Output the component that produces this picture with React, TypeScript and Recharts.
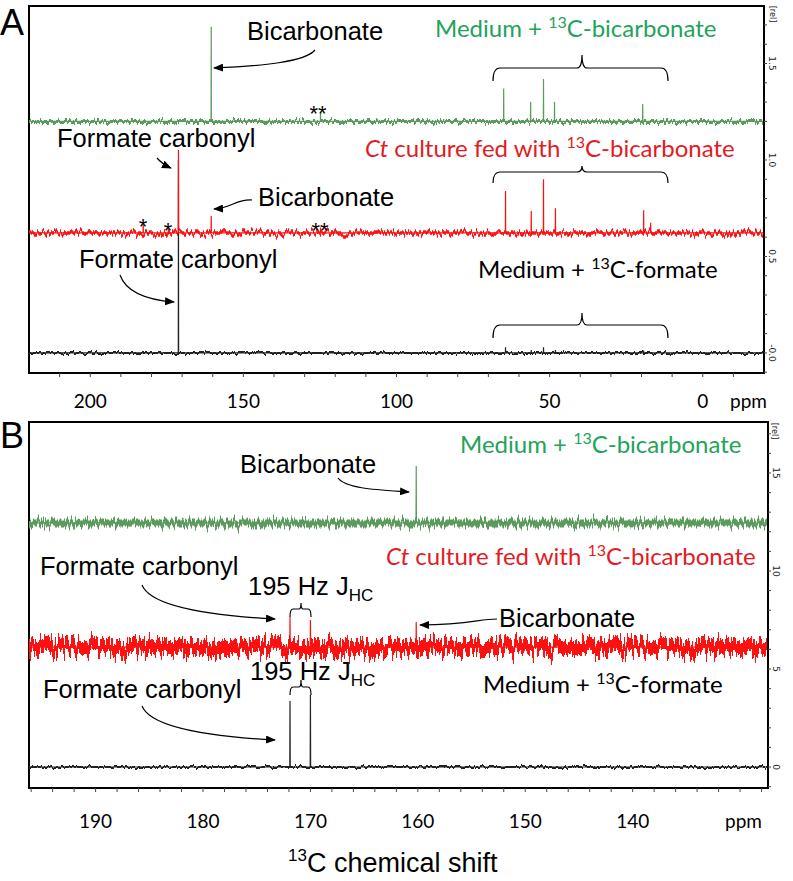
import React from 'react';
import { LineChart, Line, XAxis, YAxis, ReferenceArea } from 'recharts';

// ---- panel A : full 13C range ----
const domainXA = [-20, 220];
const domainYA = [-0.104, 1.798];
const xTicksA = [210, 200, 190, 180, 170, 160, 150, 140, 130, 120, 110, 100, 90, 80, 70, 60, 50, 40, 30, 20, 10, 0, -10];
const xLabelsA = [200, 150, 100, 50, 0];
const yTicksA = [-0.1, 0, 0.1, 0.2, 0.3, 0.4, 0.5, 0.6, 0.7, 0.8, 0.9, 1.0, 1.1, 1.2, 1.3, 1.4, 1.5, 1.6, 1.7];
const yLabelsA = ['-0.0', '0.5', '1.0', '1.5'];
const yLabelValsA = [0, 0.5, 1.0, 1.5];

// baselines (rel) and peaks [ppm, top]
const baseGreenA = 1.2;
const baseRedA = 0.622;
const baseBlackA = 0;
const peaksGreenA = [[160.5, 1.69], [124.8, 1.25], [65.0, 1.37], [56.2, 1.3], [52.0, 1.42], [48.4, 1.3], [19.6, 1.29]];
const peaksRedA = [[182.7, 0.674], [174.5, 0.648], [171.2, 1.052], [160.5, 0.71], [124.8, 0.65], [64.4, 0.839], [56.0, 0.736], [52.0, 0.9], [48.1, 0.75], [19.3, 0.74], [17.0, 0.674]];
const peaksBlackA = [[171.2, 1.0], [64.4, 0.03], [56.0, 0.015], [52.0, 0.03], [48.1, 0.015], [19.3, 0.012]];

// ---- panel B : carbonyl region ----
const domainXB = [127.4, 196.2];
const domainYB = [-1.07, 17.6];
const xTicksB = [196, 194, 192, 190, 188, 186, 184, 182, 180, 178, 176, 174, 172, 170, 168, 166, 164, 162, 160, 158, 156, 154, 152, 150, 148, 146, 144, 142, 140, 138, 136, 134, 132, 130, 128];
const xLabelsB = [190, 180, 170, 160, 150, 140];
const yTicksB = [-1, 0, 1, 2, 3, 4, 5, 6, 7, 8, 9, 10, 11, 12, 13, 14, 15, 16, 17];
const yLabelsB = ['0', '5', '10', '15'];
const yLabelValsB = [0, 5, 10, 15];

const baseGreenB = 12.45;
const baseRedB = 6.12;
const baseBlackB = 0;
const peaksGreenB = [[160.15, 15.36]];
const peaksRedB = [[171.9, 7.65], [170.0, 7.5], [160.15, 7.4]];
const peaksBlackB = [[171.9, 3.37], [170.0, 3.67]];

const GREEN_LINE = '#5b9b5b';
const RED_LINE = '#ff1010';
const BLACK_LINE = '#222';
const GREEN_TEXT = '#22a35a';
const RED_TEXT = '#e31b23';
const ARIAL = '"Liberation Sans", Arial, sans-serif';
const CALIBRI = 'Lato, "Open Sans", sans-serif';

type Pt = { ppm: number; v: number };

function buildTrace(base: number, peaks: number[][], dom: number[], w: number): Pt[] {
  const pts: Pt[] = [{ ppm: dom[1], v: base }];
  const sorted = [...peaks].sort((a, b) => b[0] - a[0]);
  sorted.forEach(([p, top]) => {
    pts.push({ ppm: p + w, v: base });
    pts.push({ ppm: p, v: top });
    pts.push({ ppm: p - w, v: base });
  });
  pts.push({ ppm: dom[0], v: base });
  return pts;
}

function flat(base: number, dom: number[]): Pt[] {
  return [{ ppm: dom[1], v: base }, { ppm: dom[0], v: base }];
}

const makeXTick = (labels: number[], dy: number) => (props: any) => {
  const { x, y, payload } = props;
  if (!labels.includes(payload.value)) return <g />;
  return (
    <text x={x} y={y + dy} textAnchor="middle" fontFamily={CALIBRI} fontSize={19} fill="#000">
      {payload.value}
    </text>
  );
};

const makeYTick = (vals: number[], labels: string[]) => (props: any) => {
  const { x, y, payload } = props;
  const i = vals.findIndex((v) => Math.abs(v - payload.value) < 1e-6);
  if (i < 0) return <g />;
  return (
    <text x={x} y={y} transform={`rotate(90, ${x}, ${y})`} textAnchor="middle" fontFamily='"DejaVu Sans", sans-serif' fontSize={9} fill="#222">
      {labels[i]}
    </text>
  );
};

// baseline noise look: a jitter filter on the baseline stroke
const NoiseFilter = ({ id, scale, seed }: { id: string; scale: number; seed: number }) => (
  <filter id={id} filterUnits="userSpaceOnUse" x={0} y={-20} width={793} height={920} colorInterpolationFilters="sRGB">
    <feTurbulence type="fractalNoise" baseFrequency="0.45 0.01" numOctaves={2} seed={seed} result="t" />
    <feColorMatrix in="t" type="matrix" values="0 0 0 0 0.5  0 1 0 0 0  0 0 0 0 0  0 0 0 0 1" result="m" />
    <feDisplacementMap in="SourceGraphic" in2="m" scale={scale} xChannelSelector="R" yChannelSelector="G" />
  </filter>
);

export default function App() {
  const series = (base: number, peaks: number[][], dom: number[], color: string, band: number, w: number, filt: string, key: string) => [
    <Line key={key + 'b'} data={flat(base, dom)} dataKey="v" stroke={color} strokeWidth={band} filter={`url(#${filt})`} dot={false} isAnimationActive={false} />,
    <Line key={key + 'p'} data={buildTrace(base, peaks, dom, w)} dataKey="v" stroke={color} strokeWidth={1.2} dot={false} isAnimationActive={false} />,
  ];

  return (
    <div style={{ position: 'absolute', left: 0, top: 0, width: 793, height: 881, background: '#fff' }}>
      <svg width={0} height={0} style={{ position: 'absolute' }}>
        <defs>
          <NoiseFilter id="nz-ga" scale={10} seed={2} />
          <NoiseFilter id="nz-ra" scale={13} seed={5} />
          <NoiseFilter id="nz-ka" scale={6} seed={7} />
          <NoiseFilter id="nz-gb" scale={20} seed={11} />
          <NoiseFilter id="nz-rb" scale={32} seed={13} />
          <NoiseFilter id="nz-kb" scale={6} seed={17} />
        </defs>
      </svg>
      <div style={{ position: 'absolute', left: 0, top: 0 }}>
        <LineChart width={793} height={416} margin={{ top: 6, right: 0, bottom: 0, left: 29 }}>
          <XAxis type="number" dataKey="ppm" domain={domainXA} reversed allowDataOverflow ticks={xTicksA} interval={0}
            height={43} tickSize={4} tickMargin={2} axisLine={{ stroke: '#000', strokeWidth: 2 }} tickLine={{ stroke: '#444' }}
            tick={makeXTick(xLabelsA, 29)} />
          <YAxis type="number" orientation="right" domain={domainYA} allowDataOverflow ticks={yTicksA} interval={0}
            width={29} tickSize={3} tickMargin={2} axisLine={{ stroke: '#000', strokeWidth: 2 }} tickLine={{ stroke: '#444' }}
            tick={makeYTick(yLabelValsA, yLabelsA)} />
          <ReferenceArea x1={domainXA[1]} x2={domainXA[0]} y1={domainYA[0]} y2={domainYA[1]} fill="none" stroke="#000" strokeWidth={2} ifOverflow="visible" />
          {series(baseBlackA, peaksBlackA, domainXA, BLACK_LINE, 2, 0.05, 'nz-ka', 'ka')}
          {series(baseGreenA, peaksGreenA, domainXA, GREEN_LINE, 3, 0.05, 'nz-ga', 'ga')}
          {series(baseRedA, peaksRedA, domainXA, RED_LINE, 3.5, 0.05, 'nz-ra', 'ra')}
        </LineChart>
      </div>
      <div style={{ position: 'absolute', left: 0, top: 416 }}>
        <LineChart width={793} height={465} margin={{ top: 6, right: 0, bottom: 0, left: 29 }}>
          <XAxis type="number" dataKey="ppm" domain={domainXB} reversed allowDataOverflow ticks={xTicksB} interval={0}
            height={93} tickSize={4} tickMargin={2} axisLine={{ stroke: '#000', strokeWidth: 2 }} tickLine={{ stroke: '#444' }}
            tick={makeXTick(xLabelsB, 34)} />
          <YAxis type="number" orientation="right" domain={domainYB} allowDataOverflow ticks={yTicksB} interval={0}
            width={25} tickSize={3} tickMargin={2} axisLine={{ stroke: '#000', strokeWidth: 2 }} tickLine={{ stroke: '#444' }}
            tick={makeYTick(yLabelValsB, yLabelsB)} />
          <ReferenceArea x1={domainXB[1]} x2={domainXB[0]} y1={domainYB[0]} y2={domainYB[1]} fill="none" stroke="#000" strokeWidth={2} ifOverflow="visible" />
          {series(baseBlackB, peaksBlackB, domainXB, BLACK_LINE, 2, 0.02, 'nz-kb', 'kb')}
          {series(baseGreenB, peaksGreenB, domainXB, GREEN_LINE, 7, 0.02, 'nz-gb', 'gb')}
          {series(baseRedB, peaksRedB, domainXB, RED_LINE, 14, 0.02, 'nz-rb', 'rb')}
        </LineChart>
      </div>

      <svg width={793} height={881} style={{ position: 'absolute', left: 0, top: 0, pointerEvents: 'none' }}>
        <defs>
          <marker id="ah" markerWidth="10" markerHeight="8" refX="9" refY="4" orient="auto" markerUnits="userSpaceOnUse">
            <path d="M0,0 L10,4 L0,8 Z" fill="#000" />
          </marker>
        </defs>

        {/* panel letters */}
        <text x={0} y={35} fontFamily={ARIAL} fontSize={36} fill="#000">A</text>
        <text x={0} y={448} fontFamily={ARIAL} fontSize={36} fill="#000">B</text>

        {/* axis extras */}
        <text x={770} y={14} transform="rotate(90, 770, 14)" textAnchor="middle" fontFamily='"DejaVu Sans", sans-serif' fontSize={8} fill="#222">[rel]</text>
        <text x={772} y={431} transform="rotate(90, 772, 431)" textAnchor="middle" fontFamily='"DejaVu Sans", sans-serif' fontSize={8} fill="#222">[rel]</text>
        <text x={730} y={408} fontFamily={CALIBRI} fontSize={19} fill="#000">ppm</text>
        <text x={725} y={828} fontFamily={CALIBRI} fontSize={19} fill="#000">ppm</text>
        <text x={288} y={872} fontFamily={ARIAL} fontSize={27} fill="#000">
          <tspan dy={-11} fontSize={17}>13</tspan><tspan dy={11}>C chemical shift</tspan>
        </text>

        {/* ---- panel A annotations ---- */}
        <text x={247} y={40} fontFamily={ARIAL} fontSize={25.5} fill="#000">Bicarbonate</text>
        <path d="M315,50 C305,62 262,66 214,68" fill="none" stroke="#000" strokeWidth={1.2} markerEnd="url(#ah)" />
        <text x={318} y={121} textAnchor="middle" fontFamily={ARIAL} fontSize={22} fill="#000">**</text>

        <text x={435} y={37} fontFamily={CALIBRI} fontSize={24} fill={GREEN_TEXT}>
          Medium + <tspan dy={-9} fontSize={16}>13</tspan><tspan dy={9}>C-bicarbonate</tspan>
        </text>
        <path d="M493,81 Q493,68 500,68 L577,68 Q582,68 582,55 Q582,68 587,68 L661,68 Q668,68 668,81" fill="none" stroke="#000" strokeWidth={1.2} />

        <text x={57} y={147} fontFamily={ARIAL} fontSize={25.5} fill="#000">Formate carbonyl</text>
        <path d="M157,158 Q162,164 171,168" fill="none" stroke="#000" strokeWidth={1.2} markerEnd="url(#ah)" />

        <text x={365} y={157} fontFamily={CALIBRI} fontSize={24} fill={RED_TEXT}>
          <tspan fontStyle="italic">Ct</tspan> culture fed with <tspan dy={-9} fontSize={16}>13</tspan><tspan dy={9}>C-bicarbonate</tspan>
        </text>
        <path d="M493,183 Q493,172 500,172 L577,172 Q582,172 582,166 Q582,172 587,172 L661,172 Q668,172 668,183" fill="none" stroke="#000" strokeWidth={1.2} />

        <text x={258} y={206} fontFamily={ARIAL} fontSize={25.5} fill="#000">Bicarbonate</text>
        <path d="M252,200 C236,199 232,208 214,209" fill="none" stroke="#000" strokeWidth={1.2} markerEnd="url(#ah)" />
        <text x={143} y={234} textAnchor="middle" fontFamily={ARIAL} fontSize={22} fill="#000">*</text>
        <text x={168} y={238} textAnchor="middle" fontFamily={ARIAL} fontSize={22} fill="#000">*</text>
        <text x={320} y={238} textAnchor="middle" fontFamily={ARIAL} fontSize={22} fill="#000">**</text>

        <text x={79} y={268} fontFamily={ARIAL} fontSize={25.5} fill="#000">Formate carbonyl</text>
        <path d="M120,275 C126,292 148,300 174,302" fill="none" stroke="#000" strokeWidth={1.2} markerEnd="url(#ah)" />

        <text x={478} y={278} fontFamily={CALIBRI} fontSize={24} fill="#000">
          Medium + <tspan dy={-9} fontSize={16}>13</tspan><tspan dy={9}>C-formate</tspan>
        </text>
        <path d="M493,338 Q493,325 500,325 L577,325 Q582,325 582,313 Q582,325 587,325 L661,325 Q668,325 668,338" fill="none" stroke="#000" strokeWidth={1.2} />

        {/* ---- panel B annotations ---- */}
        <text x={240} y={473} fontFamily={ARIAL} fontSize={25.5} fill="#000">Bicarbonate</text>
        <path d="M338,478 C346,489 380,490 409,492" fill="none" stroke="#000" strokeWidth={1.2} markerEnd="url(#ah)" />

        <text x={460} y={453} fontFamily={CALIBRI} fontSize={24} fill={GREEN_TEXT}>
          Medium + <tspan dy={-9} fontSize={16}>13</tspan><tspan dy={9}>C-bicarbonate</tspan>
        </text>
        <text x={386} y={565} fontFamily={CALIBRI} fontSize={24} fill={RED_TEXT}>
          <tspan fontStyle="italic">Ct</tspan> culture fed with <tspan dy={-9} fontSize={16}>13</tspan><tspan dy={9}>C-bicarbonate</tspan>
        </text>

        <text x={40} y={575} fontFamily={ARIAL} fontSize={25.5} fill="#000">Formate carbonyl</text>
        <path d="M142,585 C150,605 200,615 275,619" fill="none" stroke="#000" strokeWidth={1.2} markerEnd="url(#ah)" />
        <text x={248} y={595} fontFamily={ARIAL} fontSize={25.5} fill="#000">
          195 Hz J<tspan dy={6} fontSize={17}>HC</tspan>
        </text>
        <path d="M290,617 Q290,609 293,609 L299,609 Q301,609 301,603 Q301,609 303,609 L308,609 Q311,609 311,617" fill="none" stroke="#000" strokeWidth={1.2} />

        <text x={499} y={627} fontFamily={ARIAL} fontSize={25.5} fill="#000">Bicarbonate</text>
        <path d="M497,619 C478,619 470,625 420,625" fill="none" stroke="#000" strokeWidth={1.2} markerEnd="url(#ah)" />

        <text x={250} y={680} fontFamily={ARIAL} fontSize={25.5} fill="#000">
          195 Hz J<tspan dy={6} fontSize={17}>HC</tspan>
        </text>
        <path d="M290,695 Q290,687 293,687 L299,687 Q301,687 301,680 Q301,687 303,687 L308,687 Q311,687 311,695" fill="none" stroke="#000" strokeWidth={1.2} />

        <text x={43} y={698} fontFamily={ARIAL} fontSize={25.5} fill="#000">Formate carbonyl</text>
        <path d="M142,706 C150,726 200,736 275,740" fill="none" stroke="#000" strokeWidth={1.2} markerEnd="url(#ah)" />

        <text x={483} y={693} fontFamily={CALIBRI} fontSize={24} fill="#000">
          Medium + <tspan dy={-9} fontSize={16}>13</tspan><tspan dy={9}>C-formate</tspan>
        </text>
      </svg>
    </div>
  );
}
